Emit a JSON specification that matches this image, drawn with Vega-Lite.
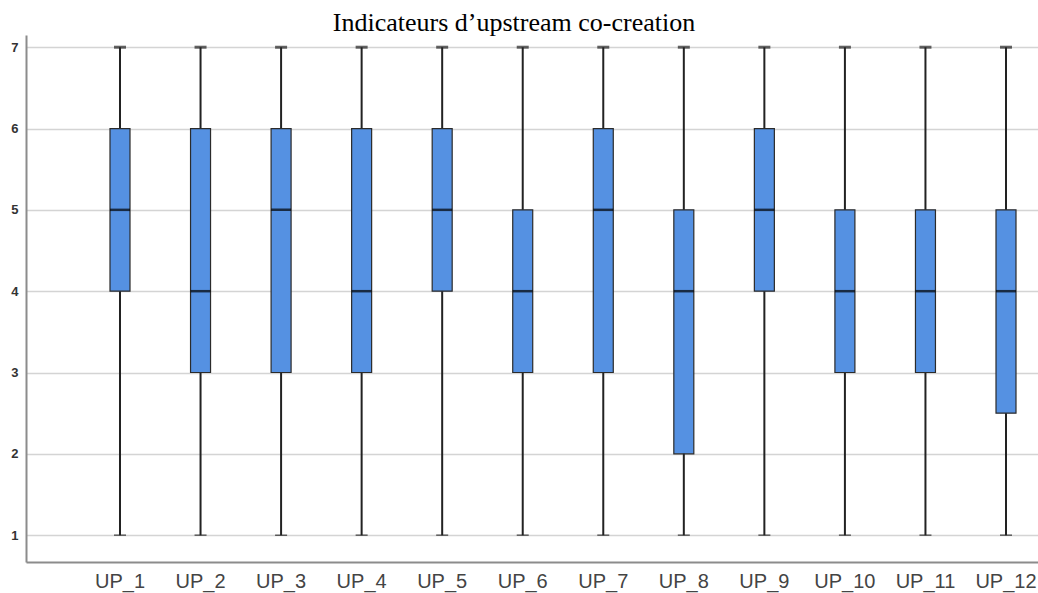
{
  "$schema": "https://vega.github.io/schema/vega-lite/v6.json",
  "autosize": "none",
  "padding": {"left": 26, "top": 35, "right": 0, "bottom": 31},
  "width": 1074,
  "height": 527,
  "background": "white",
  "title": {
    "text": "Indicateurs d’upstream co-creation",
    "font": "Liberation Serif",
    "fontSize": 26,
    "fontWeight": "normal",
    "color": "#000000",
    "anchor": "middle",
    "dx": -49,
    "offset": -1
  },
  "config": {
    "view": {"stroke": null},
    "axis": {"labelFont": "Liberation Sans"}
  },
  "data": {
    "values": [
      {"item": "UP_1", "min": 1, "q1": 4, "median": 5, "q3": 6, "max": 7},
      {"item": "UP_2", "min": 1, "q1": 3, "median": 4, "q3": 6, "max": 7},
      {"item": "UP_3", "min": 1, "q1": 3, "median": 5, "q3": 6, "max": 7},
      {"item": "UP_4", "min": 1, "q1": 3, "median": 4, "q3": 6, "max": 7},
      {"item": "UP_5", "min": 1, "q1": 4, "median": 5, "q3": 6, "max": 7},
      {"item": "UP_6", "min": 1, "q1": 3, "median": 4, "q3": 5, "max": 7},
      {"item": "UP_7", "min": 1, "q1": 3, "median": 5, "q3": 6, "max": 7},
      {"item": "UP_8", "min": 1, "q1": 2, "median": 4, "q3": 5, "max": 7},
      {"item": "UP_9", "min": 1, "q1": 4, "median": 5, "q3": 6, "max": 7},
      {"item": "UP_10", "min": 1, "q1": 3, "median": 4, "q3": 5, "max": 7},
      {"item": "UP_11", "min": 1, "q1": 3, "median": 4, "q3": 5, "max": 7},
      {"item": "UP_12", "min": 1, "q1": 2.5, "median": 4, "q3": 5, "max": 7}
    ]
  },
  "encoding": {
    "x": {
      "field": "item",
      "type": "nominal",
      "sort": null,
      "scale": {"paddingInner": 0, "paddingOuter": 0.667},
      "axis": {
        "title": null,
        "labelAngle": 0,
        "labelFontSize": 20,
        "labelColor": "#444444",
        "labelPadding": 9,
        "ticks": false,
        "domainColor": "#8c8c8c",
        "domainWidth": 2,
        "grid": false
      }
    }
  },
  "layer": [
    {
      "mark": {"type": "rule", "color": "#222222", "strokeWidth": 2},
      "encoding": {
        "y": {
          "field": "min",
          "type": "quantitative",
          "scale": {"domain": [0.67, 7.15], "nice": false, "zero": false},
          "axis": {
            "title": null,
            "values": [1, 2, 3, 4, 5, 6, 7],
            "format": "d",
            "labelFontSize": 13,
            "labelFontWeight": "bold",
            "labelColor": "#333333",
            "labelPadding": 8,
            "ticks": false,
            "domainColor": "#8c8c8c",
            "domainWidth": 2,
            "grid": true,
            "gridColor": "#d4d4d4",
            "gridWidth": 1.5
          }
        },
        "y2": {"field": "max"}
      }
    },
    {
      "mark": {"type": "tick", "color": "#222222", "thickness": 3, "size": 12},
      "encoding": {"y": {"field": "max", "type": "quantitative"}}
    },
    {
      "mark": {"type": "tick", "color": "#222222", "thickness": 1.5, "size": 12},
      "encoding": {"y": {"field": "min", "type": "quantitative"}}
    },
    {
      "mark": {"type": "bar", "fill": "#5591e2", "stroke": "#2b2b2b", "strokeWidth": 1.2, "size": 20},
      "encoding": {
        "y": {"field": "q1", "type": "quantitative"},
        "y2": {"field": "q3"}
      }
    },
    {
      "mark": {"type": "tick", "color": "#000000", "thickness": 2.5, "size": 20},
      "encoding": {"y": {"field": "median", "type": "quantitative"}}
    }
  ]
}
